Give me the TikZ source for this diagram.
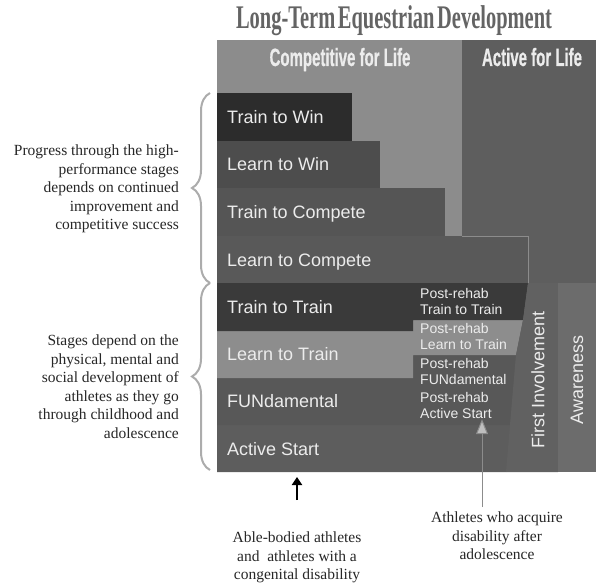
\documentclass[tikz,border=0pt]{standalone}
\usepackage{fontspec}
\setmainfont{Liberation Serif}
\setsansfont{Liberation Sans}
\newfontfamily\titlefont[FakeStretch=0.62]{Liberation Serif}
\newfontfamily\headfont[FakeStretch=0.6, FakeBold=0.6]{Liberation Sans}
\usetikzlibrary{arrows.meta, decorations.pathreplacing, calc}

\definecolor{compgray}{RGB}{140, 140, 140}
\definecolor{activegray}{RGB}{94, 94, 94}
\definecolor{twin}{RGB}{44, 44, 44}
\definecolor{lwin}{RGB}{77, 77, 77}
\definecolor{tcomp}{RGB}{85, 85, 85}
\definecolor{lcomp}{RGB}{89, 89, 89}
\definecolor{ttrain}{RGB}{58, 58, 58}
\definecolor{ltrain}{RGB}{141, 141, 141}
\definecolor{fundgray}{RGB}{88, 88, 88}
\definecolor{astart}{RGB}{93, 93, 93}
\definecolor{firstinv}{RGB}{97, 97, 97}
\definecolor{aware}{RGB}{108, 108, 108}
\definecolor{titlegray}{RGB}{100, 100, 100}
\definecolor{bracegray}{RGB}{172, 172, 172}
\definecolor{labelwhite}{RGB}{236, 236, 236}

\tikzset{
  stagelabel/.style={anchor=base west, inner sep=0pt, text=labelwhite, font=\sffamily\fontsize{18}{20}\selectfont},
  rehablabel/.style={anchor=north west, inner sep=0pt, align=left, text=labelwhite, font=\sffamily\fontsize{14}{16}\selectfont},
  headlabel/.style={anchor=base, inner sep=0pt, text=labelwhite, font=\headfont\bfseries\fontsize{25}{25}\selectfont},
  columnlabel/.style={rotate=90, inner sep=0pt, text=labelwhite, font=\sffamily\fontsize{18}{20}\selectfont},
  notetext/.style={inner sep=0pt, text=black!85, font=\fontsize{15.5}{18.5}\selectfont},
  sidebrace/.style={draw=bracegray, line width=2pt, decorate, decoration={brace, amplitude=18pt}}
}

\begin{document}
\begin{tikzpicture}[x=1pt, y=-1pt]
  \useasboundingbox (0,0) rectangle (596,585);

  % Title
  \node[inner sep=0pt, text=titlegray, font=\titlefont\bfseries\fontsize{33}{33}\selectfont] (title) at (394,21) {{\spaceskip=0.08em Long-Term Equestrian Development}};

  % Background regions
  \fill[compgray] (217,40) rectangle (462,472);
  \fill[activegray] (462,40) rectangle (596,472);
  \node[headlabel] (comphead) at (340,66) {Competitive for Life};
  \node[headlabel] (activehead) at (532,66) {Active for Life};

  % High-performance stages
  \fill[lcomp] (217,236) rectangle (528,283);
  \draw[black!45, line width=0.6pt] (462,236) -- (528,236) -- (528,283);
  \fill[tcomp] (217,188) rectangle (445,236);
  \fill[lwin] (217,141) rectangle (380,188);
  \fill[twin] (217,93) rectangle (352,141);

  % Developmental stages
  \fill[astart] (217,283) -- (528,283) -- (506,472) -- (217,472) -- cycle;
  \fill[fundgray] (217,378) -- (413,378) -- (413,355) -- (516,355) -- (510,425) -- (217,425) -- cycle;
  \fill[ltrain] (217,331) -- (413,331) -- (413,320) -- (523,320) -- (516,355) -- (413,355) -- (413,378) -- (217,378) -- cycle;
  \fill[ttrain] (217,283) -- (528,283) -- (523,320) -- (413,320) -- (413,331) -- (217,331) -- cycle;

  % Columns
  \fill[firstinv] (528,283) -- (558,283) -- (558,472) -- (506,472) -- (510,425) -- (516,355) -- (523,320) -- cycle;
  \fill[aware] (558,283) rectangle (596,472);

  % Stage labels
  \node[stagelabel] (trainwin) at (227,123.5) {Train to Win};
  \node[stagelabel] (learnwin) at (227,170.5) {Learn to Win};
  \node[stagelabel] (traincomp) at (227,218.5) {Train to Compete};
  \node[stagelabel] (learncomp) at (227,266.5) {Learn to Compete};
  \node[stagelabel] (traintrain) at (227,313.5) {Train to Train};
  \node[stagelabel] (learntrain) at (227,360.5) {Learn to Train};
  \node[stagelabel] (fundamental) at (227,407.5) {FUNdamental};
  \node[stagelabel] (activestart) at (227,455.5) {Active Start};

  % Post-rehab stages
  \node[rehablabel] (prtrain) at (420,288) {Post-rehab\\Train to Train};
  \node[rehablabel] (prlearn) at (420,323.5) {Post-rehab\\Learn to Train};
  \node[rehablabel] (prfund) at (420,358.5) {Post-rehab\\FUNdamental};
  \node[rehablabel] (prstart) at (420,392.5) {Post-rehab\\Active Start};

  \node[columnlabel] (firstinvolve) at (538,380) {First Involvement};
  \node[columnlabel] (awareness) at (577,380) {Awareness};

  % Braces and side notes
  \draw[sidebrace] (210,283) -- (210,93);
  \draw[sidebrace] (210,470) -- (210,283);
  \node[notetext, align=right, anchor=north east] (hpnote) at (179,145) {Progress through the high-\\performance stages\\depends on continued\\improvement and\\competitive success};
  \node[notetext, align=right, anchor=north east] (devnote) at (179,335) {Stages depend on the\\physical, mental and\\social development of\\athletes as they go\\through childhood and\\adolescence};

  % Entry points
  \coordinate (ablefoot) at (297,500);
  \coordinate (ablehead) at (297,477);
  \draw[line width=2pt, -{Triangle[length=8pt, width=10pt]}] (ablefoot) -- (ablehead);
  \node[notetext, align=center, anchor=north] (ablenote) at (297,532) {Able-bodied athletes\\and\ \ athletes with a\\congenital disability};

  \coordinate (acqfoot) at (482,507);
  \draw[black!45, line width=1pt, -{Triangle[length=15pt, width=12pt, fill=black!25]}] (acqfoot) -- (acqfoot |- prstart.south);
  \node[notetext, align=center, anchor=north] (acqnote) at (497,512) {Athletes who acquire\\disability after\\adolescence};
\end{tikzpicture}
\end{document}
